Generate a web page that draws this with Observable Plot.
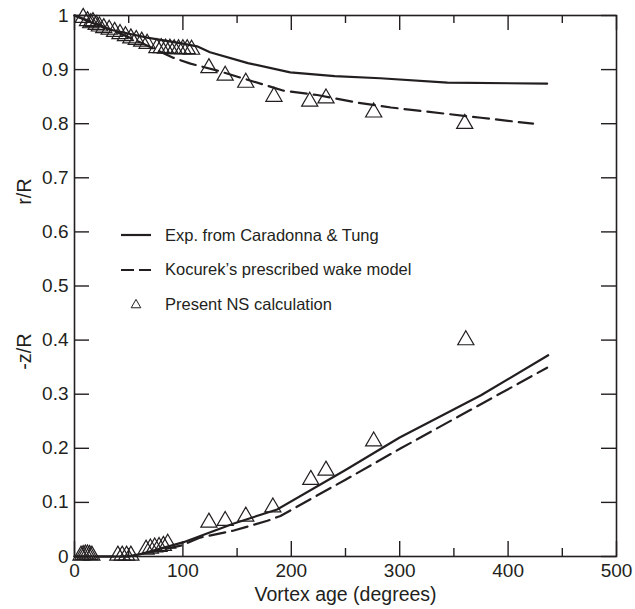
<!DOCTYPE html>
<html>
<head>
<meta charset="utf-8">
<script src="https://cdn.jsdelivr.net/npm/d3@7"></script>
<script src="https://cdn.jsdelivr.net/npm/@observablehq/plot@0.6"></script>
<style>
  html, body { margin: 0; padding: 0; background: #fff; }
  #wrap { position: relative; width: 635px; height: 609px; font-family: "Liberation Sans", Arial, Helvetica, sans-serif; color: #231f20; }
  #legend { position: absolute; left: 121px; top: 218px; font-size: 16.5px; }
  #legend .row { display: flex; align-items: center; height: 34.5px; }
  #legend svg { margin-right: 14px; }
</style>
</head>
<body>
<div id="wrap"></div>
<script>
// ---- data ----
// r/R, experiment (Caradonna & Tung)
const rExpAge = [0, 30, 67, 100, 113, 125, 160, 199, 240, 282, 344, 436];
const rExpVal = [1.0, 0.975, 0.959, 0.948, 0.943, 0.932, 0.912, 0.895, 0.888, 0.884, 0.876, 0.874];
// r/R, Kocurek prescribed wake
const rKocAge = [0, 20, 50, 77, 91, 107, 132, 193, 224, 261, 292, 313, 375, 423];
const rKocVal = [1.0, 0.985, 0.96, 0.935, 0.922, 0.911, 0.898, 0.861, 0.853, 0.839, 0.830, 0.825, 0.811, 0.800];
// -z/R, experiment
const zExpAge = [0, 50, 60, 100, 147, 187, 250, 300, 375, 437];
const zExpVal = [0, 0, 0.004, 0.026, 0.061, 0.087, 0.16, 0.22, 0.298, 0.372];
// -z/R, Kocurek
const zKocAge = [0, 50, 98, 116, 147, 178, 190, 250, 301, 436];
const zKocVal = [0, 0, 0.020, 0.035, 0.048, 0.066, 0.075, 0.142, 0.200, 0.349];
// present NS calculation, r/R
const nsRAge = [8, 12, 15, 17, 20, 23, 27, 32, 37, 42, 47, 52, 57, 62, 67, 76, 80, 84, 88, 92, 96, 100, 104, 108, 124, 139, 158, 184, 217, 232, 276, 360];
const nsRVal = [0.996, 0.99, 0.986, 0.988, 0.983, 0.98, 0.977, 0.974, 0.97, 0.966, 0.962, 0.958, 0.955, 0.952, 0.948, 0.94, 0.94, 0.939, 0.939, 0.938, 0.938, 0.938, 0.938, 0.937, 0.903, 0.889, 0.876, 0.850, 0.841, 0.847, 0.821, 0.800];
// present NS calculation, -z/R
const nsZAge = [6, 8, 10, 12, 14, 16, 40, 44, 48, 52, 66, 70, 74, 78, 82, 86, 124, 139, 158, 183, 218, 232, 276, 361];
const nsZVal = [0.002, 0.003, 0.004, 0.004, 0.003, 0.002, 0.002, 0.002, 0.002, 0.002, 0.013, 0.015, 0.017, 0.018, 0.020, 0.024, 0.063, 0.066, 0.074, 0.091, 0.142, 0.159, 0.213, 0.400];

// ticks & labels
const xMajor = [0, 100, 200, 300, 400, 500];
const xMinor = [50, 150, 250, 350, 450];
const yTicks = [0, 0.1, 0.2, 0.3, 0.4, 0.5, 0.6, 0.7, 0.8, 0.9, 1];
const yLabels = [{text: "r/R", at: 0.65}, {text: "-z/R", at: 0.345}];
const xTitle = "Vortex age (degrees)";
const legendItems = ["Exp. from Caradonna & Tung", "Kocurek\u2019s prescribed wake model", "Present NS calculation"];

const pts = (a, v) => a.map((x, i) => ({x, y: v[i]}));
const ink = "#231f20";
const W = 635, H = 609;
const mL = 74, mR = 19, mT = 15, mB = 53;
const pw = W - mL - mR, ph = H - mT - mB;
const dash = "16,7";

const chart = Plot.plot({
  width: W, height: H,
  marginLeft: mL, marginRight: mR, marginTop: mT, marginBottom: mB,
  style: {fontFamily: "'Liberation Sans', Arial, Helvetica, sans-serif", fontSize: "19px", color: ink, background: "#fff"},
  x: {domain: [0, 500], ticks: xMajor, tickSize: 0, tickPadding: 7, fontSize: 18.5, tickFormat: d3.format("d"), label: null},
  y: {domain: [0, 1], ticks: yTicks, tickSize: 0, tickPadding: 6, fontSize: 20, tickFormat: d => d === 0 || d === 1 ? String(d) : d.toFixed(1), label: null},
  marks: [
    Plot.frame({stroke: ink, strokeWidth: 1.6}),
    // inward ticks
    Plot.tickX(xMajor, {x: d => d, insetTop: ph - 15, stroke: ink, strokeWidth: 1.4}),
    Plot.tickX(xMajor, {x: d => d, insetBottom: ph - 15, stroke: ink, strokeWidth: 1.4}),
    Plot.tickX(xMinor, {x: d => d, insetTop: ph - 8, stroke: ink, strokeWidth: 1.4}),
    Plot.tickX(xMinor, {x: d => d, insetBottom: ph - 8, stroke: ink, strokeWidth: 1.4}),
    Plot.tickY(yTicks, {y: d => d, insetRight: pw - 15, stroke: ink, strokeWidth: 1.4}),
    Plot.tickY(yTicks, {y: d => d, insetLeft: pw - 15, stroke: ink, strokeWidth: 1.4}),
    // series
    Plot.line(pts(rExpAge, rExpVal), {x: "x", y: "y", stroke: ink, strokeWidth: 2.2}),
    Plot.line(pts(rKocAge, rKocVal), {x: "x", y: "y", stroke: ink, strokeWidth: 2.2, strokeDasharray: dash}),
    Plot.line(pts(zExpAge, zExpVal), {x: "x", y: "y", stroke: ink, strokeWidth: 2.2}),
    Plot.line(pts(zKocAge, zKocVal), {x: "x", y: "y", stroke: ink, strokeWidth: 2.2, strokeDasharray: dash}),
    Plot.dot(pts(nsRAge, nsRVal), {x: "x", y: "y", symbol: "triangle", r: 6, stroke: ink, strokeWidth: 1.2, fill: "none"}),
    Plot.dot(pts(nsZAge, nsZVal), {x: "x", y: "y", symbol: "triangle", r: 6, stroke: ink, strokeWidth: 1.2, fill: "none"}),
    // axis titles
    Plot.text(yLabels, {y: "at", text: "text", frameAnchor: "left", dx: -50, rotate: -90, fontSize: 20, fill: ink}),
    Plot.text([xTitle], {text: d => d, frameAnchor: "bottom", dy: 44, fontSize: 19.5, fill: ink})
  ]
});

const wrap = document.getElementById("wrap");
wrap.appendChild(chart);

// legend overlay inside the frame
const leg = document.createElement("div");
leg.id = "legend";
const samples = [
  `<svg width="30" height="12"><line x1="0" x2="30" y1="6" y2="6" stroke="${ink}" stroke-width="2.2"/></svg>`,
  `<svg width="30" height="12"><line x1="0" x2="30" y1="6" y2="6" stroke="${ink}" stroke-width="2.2" stroke-dasharray="13,5"/></svg>`,
  `<svg width="30" height="12"><path d="${d3.symbol(d3.symbolTriangle, 40)()}" transform="translate(15,7)" fill="none" stroke="${ink}" stroke-width="1"/></svg>`
];
legendItems.forEach((t, i) => {
  const row = document.createElement("div");
  row.className = "row";
  row.innerHTML = samples[i] + `<span>${t}</span>`;
  leg.appendChild(row);
});
wrap.appendChild(leg);
</script>
</body>
</html>
